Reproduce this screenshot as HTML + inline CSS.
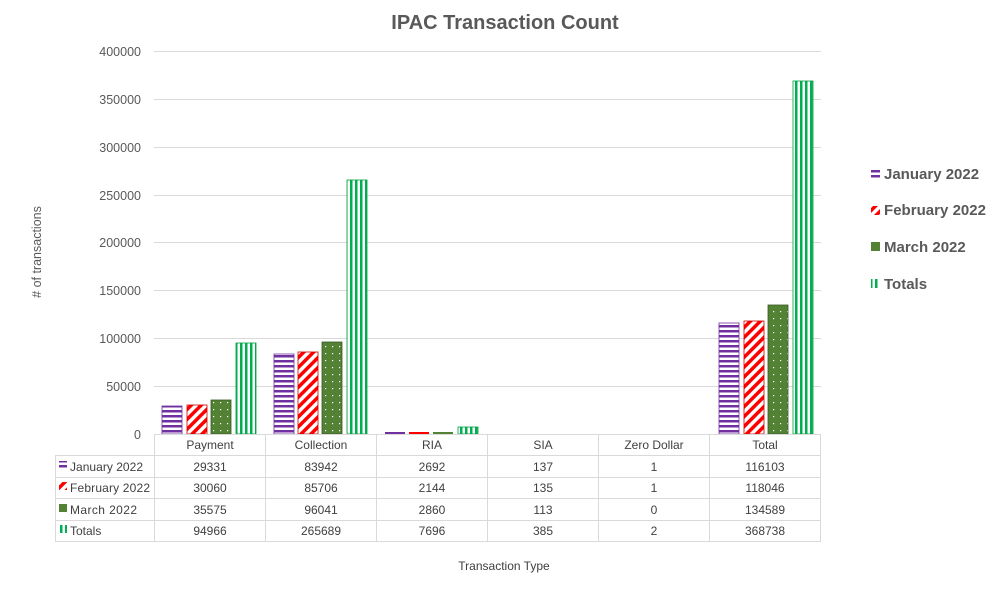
<!DOCTYPE html>
<html><head><meta charset="utf-8"><style>
body{margin:0;background:#fff;}
svg{display:block;font-family:"Liberation Sans",sans-serif;}
</style></head><body>
<svg width="1001" height="606" viewBox="0 0 1001 606" xmlns="http://www.w3.org/2000/svg">
<defs>
<pattern id="pj" width="4" height="5" patternUnits="userSpaceOnUse"><rect width="4" height="5" fill="#fff"/><rect width="4" height="2.5" fill="#7030a0"/></pattern>
<pattern id="pf" width="7" height="7" patternUnits="userSpaceOnUse" patternTransform="rotate(45)"><rect width="7" height="7" fill="#fff"/><rect width="3.5" height="7" fill="#f00"/></pattern>
<pattern id="pm" width="7" height="7" patternUnits="userSpaceOnUse"><rect width="7" height="7" fill="#548235"/><rect x="3" y="3" width="1.2" height="1.2" fill="#fff"/></pattern>
<pattern id="pt" width="5" height="4" patternUnits="userSpaceOnUse"><rect width="5" height="4" fill="#fff"/><rect width="2.5" height="4" fill="#00b050"/></pattern>
</defs>
<text x="505" y="29" text-anchor="middle" font-size="20" font-weight="bold" fill="#595959">IPAC Transaction Count</text>
<g stroke="#d9d9d9" stroke-width="1">
<line x1="154" y1="51.5" x2="821" y2="51.5"/><line x1="154" y1="99.5" x2="821" y2="99.5"/><line x1="154" y1="147.5" x2="821" y2="147.5"/><line x1="154" y1="195.5" x2="821" y2="195.5"/><line x1="154" y1="242.5" x2="821" y2="242.5"/><line x1="154" y1="290.5" x2="821" y2="290.5"/><line x1="154" y1="338.5" x2="821" y2="338.5"/><line x1="154" y1="386.5" x2="821" y2="386.5"/>
</g>
<g font-size="12.5" fill="#595959" text-anchor="end">
<text x="141" y="56">400000</text><text x="141" y="104">350000</text><text x="141" y="152">300000</text><text x="141" y="200">250000</text><text x="141" y="247">200000</text><text x="141" y="295">150000</text><text x="141" y="343">100000</text><text x="141" y="391">50000</text><text x="141" y="439">0</text>
</g>
<text transform="translate(41,252) rotate(-90)" text-anchor="middle" font-size="12.5" fill="#595959"># of transactions</text>
<g stroke-width="0.8">
<rect x="162" y="406" width="20" height="28" fill="url(#pj)" stroke="#7030a0"/>
<rect x="187" y="405" width="20" height="29" fill="url(#pf)" stroke="#c00"/>
<rect x="211" y="400" width="20" height="34" fill="url(#pm)" stroke="#385723"/>
<rect x="236" y="343" width="20" height="91" fill="url(#pt)" stroke="#00a040"/>
<rect x="274" y="354" width="20" height="80" fill="url(#pj)" stroke="#7030a0"/>
<rect x="298" y="352" width="20" height="82" fill="url(#pf)" stroke="#c00"/>
<rect x="322" y="342" width="20" height="92" fill="url(#pm)" stroke="#385723"/>
<rect x="347" y="180" width="20" height="254" fill="url(#pt)" stroke="#00a040"/>
<rect x="385" y="432" width="20" height="2" fill="#7030a0"/>
<rect x="409" y="432" width="20" height="2" fill="#f00"/>
<rect x="433" y="432" width="20" height="2" fill="#548235"/>
<rect x="458" y="427" width="20" height="7" fill="url(#pt)" stroke="#00a040"/>
<rect x="719" y="323" width="20" height="111" fill="url(#pj)" stroke="#7030a0"/>
<rect x="744" y="321" width="20" height="113" fill="url(#pf)" stroke="#c00"/>
<rect x="768" y="305" width="20" height="129" fill="url(#pm)" stroke="#385723"/>
<rect x="793" y="81" width="20" height="353" fill="url(#pt)" stroke="#00a040"/>
</g>
<g stroke="#d9d9d9" stroke-width="1">
<line x1="154" y1="434.5" x2="821" y2="434.5"/>
<line x1="55" y1="455.5" x2="821" y2="455.5"/>
<line x1="55" y1="477.5" x2="821" y2="477.5"/>
<line x1="55" y1="498.5" x2="821" y2="498.5"/>
<line x1="55" y1="520.5" x2="821" y2="520.5"/>
<line x1="55" y1="541.5" x2="821" y2="541.5"/>
<line x1="55.5" y1="455" x2="55.5" y2="541"/>
<line x1="154.5" y1="434" x2="154.5" y2="541"/>
<line x1="265.5" y1="434" x2="265.5" y2="541"/>
<line x1="376.5" y1="434" x2="376.5" y2="541"/>
<line x1="487.5" y1="434" x2="487.5" y2="541"/>
<line x1="598.5" y1="434" x2="598.5" y2="541"/>
<line x1="709.5" y1="434" x2="709.5" y2="541"/>
<line x1="820.5" y1="434" x2="820.5" y2="541"/>
</g>
<g font-size="12" fill="#404040" text-anchor="middle">
<text x="210" y="449">Payment</text><text x="321" y="449">Collection</text><text x="432" y="449">RIA</text><text x="543" y="449">SIA</text><text x="654" y="449">Zero Dollar</text><text x="765" y="449">Total</text>
<text x="210" y="471">29331</text><text x="321" y="471">83942</text><text x="432" y="471">2692</text><text x="543" y="471">137</text><text x="654" y="471">1</text><text x="765" y="471">116103</text>
<text x="210" y="492">30060</text><text x="321" y="492">85706</text><text x="432" y="492">2144</text><text x="543" y="492">135</text><text x="654" y="492">1</text><text x="765" y="492">118046</text>
<text x="210" y="514">35575</text><text x="321" y="514">96041</text><text x="432" y="514">2860</text><text x="543" y="514">113</text><text x="654" y="514">0</text><text x="765" y="514">134589</text>
<text x="210" y="535">94966</text><text x="321" y="535">265689</text><text x="432" y="535">7696</text><text x="543" y="535">385</text><text x="654" y="535">2</text><text x="765" y="535">368738</text>
</g>
<g font-size="12" fill="#404040">
<rect x="59" y="461" width="8" height="8" fill="url(#pj)"/><text x="70" y="471" textLength="73">January 2022</text>
<rect x="59" y="482" width="8" height="8" fill="url(#pf)"/><text x="70" y="492" textLength="80">February 2022</text>
<rect x="59" y="504" width="8" height="8" fill="#548235"/><text x="70" y="514" textLength="67">March 2022</text>
<rect x="59" y="525" width="8" height="8" fill="url(#pt)"/><text x="70" y="535">Totals</text>
</g>
<text x="504" y="570" text-anchor="middle" font-size="12" fill="#404040">Transaction Type</text>
<g font-size="15" font-weight="bold" fill="#595959">
<rect x="871" y="169" width="9" height="9" fill="url(#pj)"/><text x="884" y="179">January 2022</text>
<rect x="871" y="206" width="9" height="9" fill="url(#pf)"/><text x="884" y="215" textLength="102">February 2022</text>
<rect x="871" y="242" width="9" height="9" fill="#548235"/><text x="884" y="252">March 2022</text>
<rect x="871" y="279" width="9" height="9" fill="url(#pt)"/><text x="884" y="289">Totals</text>
</g>
</svg>
</body></html>
